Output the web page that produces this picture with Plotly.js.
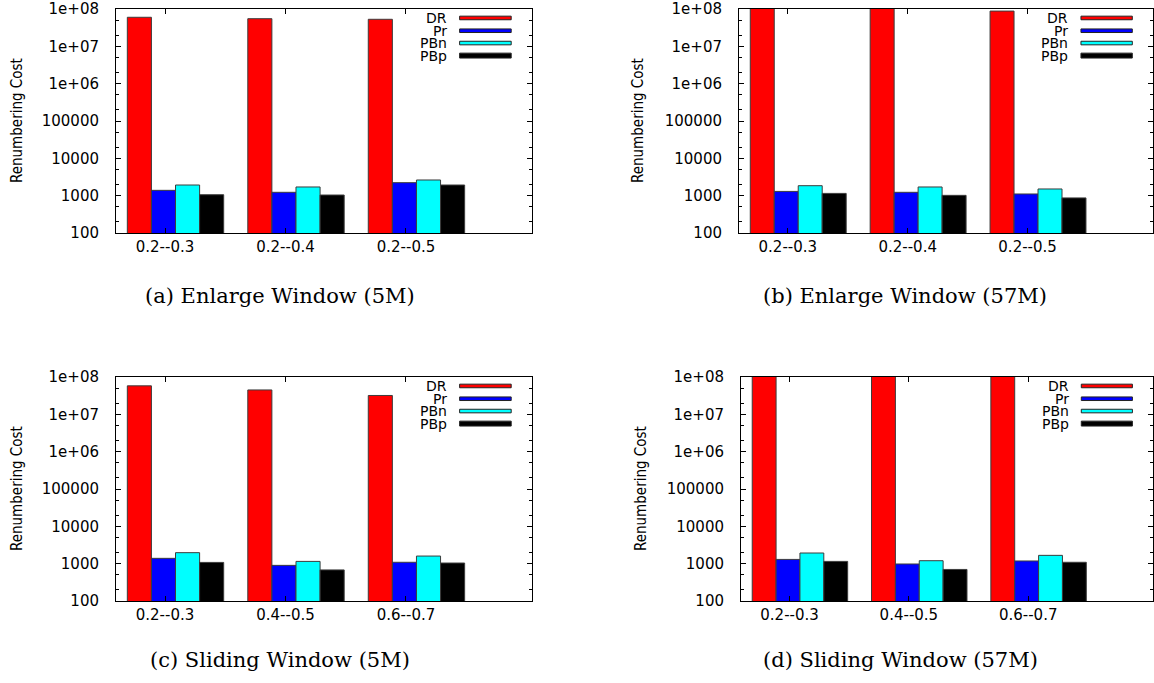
<!DOCTYPE html>
<html>
<head>
<meta charset="utf-8">
<script src="https://cdn.plot.ly/plotly-3.0.1.min.js"></script>
<style>html,body{margin:0;padding:0;background:#fff}#chart{width:1154px;height:683px}</style>
</head>
<body>
<div id="chart"></div>
<script>
// ---------------- data ----------------
const seriesNames = ['DR', 'Pr', 'PBn', 'PBp'];
const seriesColors = ['#ff0000', '#0000ff', '#00ffff', '#000000'];

const categoriesEnlarge = ['0.2--0.3', '0.2--0.4', '0.2--0.5'];
const categoriesSliding = ['0.2--0.3', '0.4--0.5', '0.6--0.7'];

// (a) Enlarge Window (5M)
const a_DR  = [60000000, 55000000, 53000000];
const a_Pr  = [1390, 1230, 2230];
const a_PBn = [1930, 1710, 2630];
const a_PBp = [1060, 1040, 1930];

// (b) Enlarge Window (57M)
const b_DR  = [110000000, 110000000, 88000000];
const b_Pr  = [1300, 1230, 1110];
const b_PBn = [1850, 1710, 1510];
const b_PBp = [1150, 1020, 870];

// (c) Sliding Window (5M)
const c_DR  = [58000000, 45000000, 32000000];
const c_Pr  = [1390, 900, 1090];
const c_PBn = [1970, 1150, 1600];
const c_PBp = [1080, 680, 1040];

// (d) Sliding Window (57M)
const d_DR  = [110000000, 110000000, 110000000];
const d_Pr  = [1300, 980, 1180];
const d_PBn = [1930, 1200, 1670];
const d_PBp = [1150, 700, 1090];

const yTickVals = [100, 1000, 10000, 100000, 1000000, 10000000, 100000000];
const yTickText = ['100', '1000', '10000', '100000', '1e+06', '1e+07', '1e+08'];

const yAxisTitle = 'Renumbering Cost';
const captions = ['(a) Enlarge Window (5M)', '(b) Enlarge Window (57M)',
                  '(c) Sliding Window (5M)', '(d) Sliding Window (57M)'];

// ---------------- layout helpers ----------------
const W = 1154, H = 683;
const panels = [
  {cats: categoriesEnlarge, vals: [a_DR, a_Pr, a_PBn, a_PBp], left: 116, right: 532, top: 9,   bottom: 233, titleX: 17,  capX: 280, capY: 296},
  {cats: categoriesEnlarge, vals: [b_DR, b_Pr, b_PBn, b_PBp], left: 739, right: 1153, top: 9,  bottom: 233, titleX: 638, capX: 905, capY: 296},
  {cats: categoriesSliding, vals: [c_DR, c_Pr, c_PBn, c_PBp], left: 116, right: 532, top: 377, bottom: 601, titleX: 17,  capX: 280, capY: 660},
  {cats: categoriesSliding, vals: [d_DR, d_Pr, d_PBn, d_PBp], left: 741, right: 1153, top: 377, bottom: 601, titleX: 641, capX: 900, capY: 660}
];

const tickFont = {family: 'DejaVu Sans, Verdana, sans-serif', size: 15, color: '#000'};
const legendFont = {family: 'DejaVu Sans, Verdana, sans-serif', size: 14, color: '#000'};
const titleFont = {family: 'Liberation Sans Narrow, Arial Narrow, DejaVu Sans Condensed, sans-serif', size: 15, color: '#000'};
const capFont = {family: 'DejaVu Serif, serif', size: 21, color: '#000'};

const barWidth = 0.2;
const groupShift = -0.313;

const traces = [];
const layout = {
  width: W, height: H,
  margin: {l: 0, r: 0, t: 0, b: 0},
  paper_bgcolor: '#fff', plot_bgcolor: '#fff',
  showlegend: false,
  barmode: 'overlay',
  hovermode: false,
  annotations: [],
  shapes: []
};

panels.forEach((p, i) => {
  const n = i + 1;
  const xa = n === 1 ? 'x' : 'x' + n;
  const ya = n === 1 ? 'y' : 'y' + n;
  const xKey = n === 1 ? 'xaxis' : 'xaxis' + n;
  const yKey = n === 1 ? 'yaxis' : 'yaxis' + n;

  seriesNames.forEach((name, k) => {
    traces.push({
      type: 'bar', name: name,
      x: p.cats, y: p.vals[k],
      xaxis: xa, yaxis: ya,
      width: barWidth,
      offset: groupShift + k * barWidth,
      marker: {color: seriesColors[k], line: {color: '#3c3c3c', width: 1}},
      showlegend: false
    });
  });

  layout[xKey] = {
    domain: [p.left / W, p.right / W],
    anchor: ya,
    type: 'category',
    range: [-0.407, 3.046],
    showline: true, linecolor: '#000', linewidth: 1, mirror: 'ticks',
    ticks: 'inside', ticklen: 5, tickcolor: '#000',
    showgrid: false, zeroline: false,
    tickfont: tickFont,
    fixedrange: true
  };
  layout[yKey] = {
    domain: [(H - p.bottom) / H, (H - p.top) / H],
    anchor: xa,
    type: 'log',
    range: [2, 8],
    tickmode: 'array', tickvals: yTickVals, ticktext: yTickText,
    showline: true, linecolor: '#000', linewidth: 1, mirror: 'ticks',
    ticks: 'inside', ticklen: 5, tickcolor: '#000',
    minor: {ticks: 'inside', ticklen: 3, tickcolor: '#000', dtick: 'D2'},
    ticklabelstandoff: 13,
    showgrid: false, zeroline: false,
    tickfont: tickFont,
    fixedrange: true
  };

  // y-axis title
  layout.annotations.push({
    text: yAxisTitle, textangle: -90, font: titleFont,
    xref: 'paper', yref: 'paper',
    x: p.titleX / W, y: (H - (p.top + p.bottom) / 2) / H,
    xanchor: 'center', yanchor: 'middle', showarrow: false
  });

  // caption
  layout.annotations.push({
    text: captions[i], font: capFont,
    xref: 'paper', yref: 'paper',
    x: p.capX / W, y: (H - p.capY) / H,
    xanchor: 'center', yanchor: 'middle', showarrow: false
  });

  // legend (text right-aligned, swatch to the right)
  const xd = xa + ' domain', yd = ya + ' domain';
  const rowY = [0.96, 0.903, 0.848, 0.792];
  seriesNames.forEach((name, k) => {
    layout.annotations.push({
      text: name, font: legendFont,
      xref: xd, yref: yd, x: 0.80, y: rowY[k],
      xanchor: 'right', yanchor: 'middle', showarrow: false
    });
    const hh = k === 3 ? 0.011 : 0.008;
    layout.shapes.push({
      type: 'rect', xref: xd, yref: yd,
      x0: 0.826, x1: 0.95, y0: rowY[k] - hh, y1: rowY[k] + hh,
      fillcolor: seriesColors[k],
      line: {color: '#222', width: 1}
    });
  });
});

Plotly.newPlot('chart', traces, layout, {displayModeBar: false, staticPlot: true});
</script>
</body>
</html>
